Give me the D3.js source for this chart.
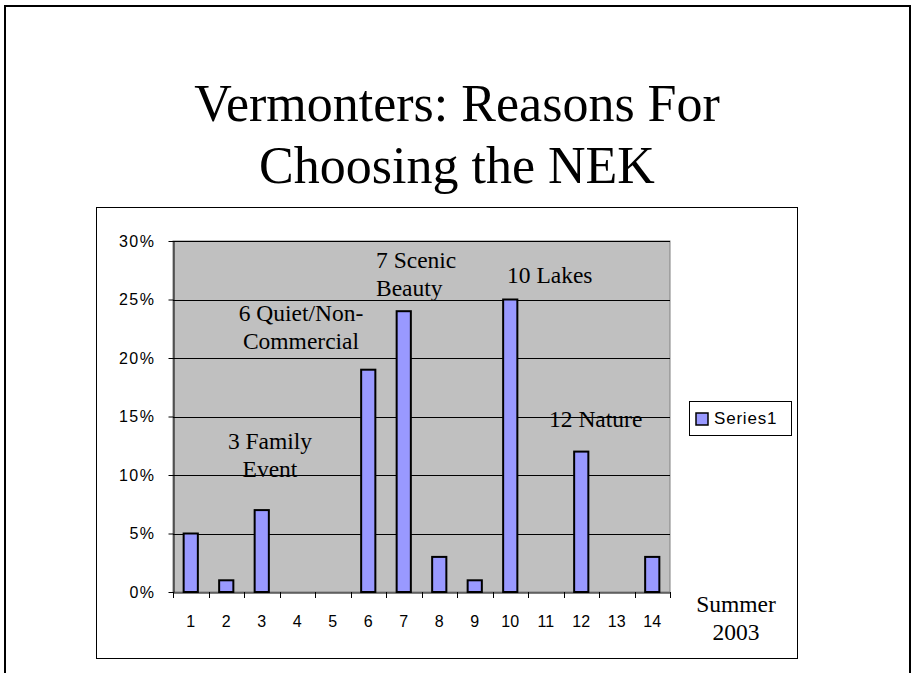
<!DOCTYPE html>
<html>
<head>
<meta charset="utf-8">
<script src="https://cdn.jsdelivr.net/npm/d3@7/dist/d3.min.js"></script>
<style>
  html, body { margin: 0; padding: 0; background: #fff; }
  svg { display: block; }
</style>
</head>
<body>
<script>
// ---- data ----
const categories = ["1","2","3","4","5","6","7","8","9","10","11","12","13","14"];
const values = [5, 1, 7, 0, 0, 19, 24, 3, 1, 25, 0, 12, 0, 3]; // percent
const yTicks = [0, 5, 10, 15, 20, 25, 30];
const titleLines = ["Vermonters: Reasons For", "Choosing the NEK"];
const seriesName = "Series1";
const noteLines = [
  ["3 Family", "Event"],
  ["6 Quiet/Non-", "Commercial"],
  ["7 Scenic", "Beauty"],
  ["10 Lakes"],
  ["12 Nature"],
  ["Summer", "2003"]
];

// ---- layout ----
const W = 914, H = 673;
const plot = { left: 173, right: 670, top: 241, bottom: 592 };
const serif = "'Liberation Serif','Times New Roman',Times,serif";
const sans = "'Liberation Sans',Arial,Helvetica,sans-serif";

const svg = d3.select("body").append("svg")
  .attr("width", W).attr("height", H)
  .attr("viewBox", `0 0 ${W} ${H}`);

svg.append("rect").attr("width", W).attr("height", H).attr("fill", "#fff");

// slide frame (open at bottom)
svg.append("path")
  .attr("d", `M5,${H} V6 H910 V${H}`)
  .attr("fill", "none").attr("stroke", "#000").attr("stroke-width", 2);

// title
const title = svg.append("text")
  .attr("text-anchor", "middle")
  .attr("font-family", serif).attr("font-size", 52).attr("fill", "#000");
titleLines.forEach((t, i) => {
  title.append("tspan").attr("x", 457).attr("y", 121 + i * 62).text(t);
});

// chart box
svg.append("rect")
  .attr("x", 96.5).attr("y", 207.5).attr("width", 701).attr("height", 451)
  .attr("fill", "#fff").attr("stroke", "#000").attr("stroke-width", 1);

// scales
const x = d3.scaleBand().domain(categories)
  .range([plot.left, plot.right]).paddingInner(0.6).paddingOuter(0.3);
const y = d3.scaleLinear().domain([0, 30]).range([plot.bottom, plot.top]);

// plot area
svg.append("rect")
  .attr("x", plot.left).attr("y", plot.top)
  .attr("width", plot.right - plot.left).attr("height", plot.bottom - plot.top)
  .attr("fill", "#c0c0c0").attr("stroke", "#808080").attr("stroke-width", 1);

// gridlines
svg.append("g").selectAll("line").data(yTicks.filter(d => d > 0)).join("line")
  .attr("x1", plot.left).attr("x2", plot.right)
  .attr("y1", d => Math.round(y(d)) + 0.5).attr("y2", d => Math.round(y(d)) + 0.5)
  .attr("stroke", "#000").attr("stroke-width", 1);

// bars
svg.append("g").selectAll("rect").data(values.map((v, i) => ({ c: categories[i], v })).filter(d => d.v > 0))
  .join("rect")
  .attr("x", d => x(d.c))
  .attr("y", d => y(d.v))
  .attr("width", x.bandwidth())
  .attr("height", d => y(0) - y(d.v))
  .attr("fill", "#9999ff").attr("stroke", "#000").attr("stroke-width", 2);

// y axis
const yAxis = svg.append("g")
  .attr("transform", `translate(${plot.left + 0.5},0)`)
  .call(d3.axisLeft(y).tickValues(yTicks).tickFormat(d => d + "%").tickSize(5).tickPadding(13).tickSizeOuter(0));
yAxis.select(".domain").attr("stroke", "#000");
yAxis.selectAll(".tick line").attr("stroke", "#000");
yAxis.selectAll("text").attr("font-family", sans).attr("font-size", 16).attr("fill", "#000")
  .attr("letter-spacing", 1.5);

// x axis (labels at category centres, ticks at category boundaries)
const xAxis = svg.append("g")
  .attr("transform", `translate(0,${plot.bottom + 0.5})`)
  .call(d3.axisBottom(x).tickSize(0).tickPadding(23).tickSizeOuter(0));
xAxis.select(".domain").attr("stroke", "#000");
xAxis.selectAll("text").attr("font-family", sans).attr("font-size", 16).attr("fill", "#000");
const step = x.step();
svg.append("g").selectAll("line").data(d3.range(categories.length + 1)).join("line")
  .attr("x1", i => Math.round(plot.left + i * step) + 0.5)
  .attr("x2", i => Math.round(plot.left + i * step) + 0.5)
  .attr("y1", plot.bottom).attr("y2", plot.bottom + 6)
  .attr("stroke", "#000").attr("stroke-width", 1);

// annotations
const notePos = [
  { x: 270, y: 449, anchor: "middle" },
  { x: 301, y: 321, anchor: "middle" },
  { x: 376, y: 268, anchor: "start" },
  { x: 507, y: 283, anchor: "start" },
  { x: 549, y: 427, anchor: "start" },
  { x: 736, y: 612, anchor: "middle" }
];
noteLines.forEach((lines, i) => {
  const p = notePos[i];
  const t = svg.append("text")
    .attr("text-anchor", p.anchor)
    .attr("font-family", serif).attr("font-size", 23.5).attr("fill", "#000");
  lines.forEach((s, j) => {
    t.append("tspan").attr("x", p.x).attr("y", p.y + j * 27.5).text(s);
  });
});

// legend
const lg = svg.append("g");
lg.append("rect").attr("x", 689.5).attr("y", 401.5).attr("width", 102).attr("height", 34)
  .attr("fill", "#fff").attr("stroke", "#000").attr("stroke-width", 1);
lg.append("rect").attr("x", 696).attr("y", 413).attr("width", 12).attr("height", 12)
  .attr("fill", "#9999ff").attr("stroke", "#000").attr("stroke-width", 1.5);
lg.append("text").attr("x", 714).attr("y", 424)
  .attr("font-family", sans).attr("font-size", 17).attr("letter-spacing", 0.8).attr("fill", "#000")
  .text(seriesName);
</script>
</body>
</html>
